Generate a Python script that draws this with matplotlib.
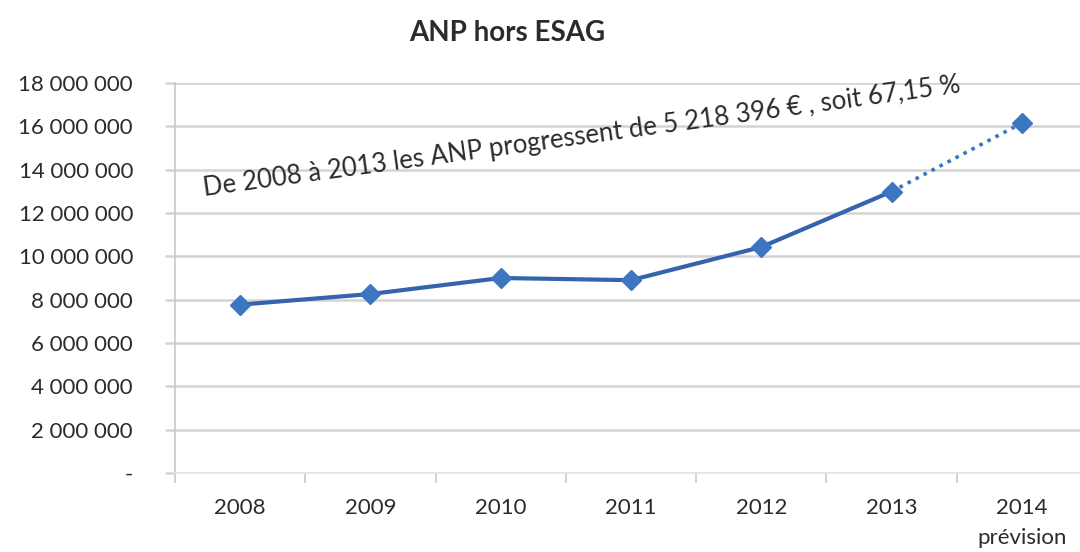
import matplotlib
matplotlib.use("Agg")
import matplotlib.pyplot as plt
import numpy as np

plt.rcParams["font.family"] = ["Lato", "DejaVu Sans"]

years = ["2008", "2009", "2010", "2011", "2012", "2013", "2014\nprévision"]
anp = [7771000, 8260000, 9000000, 8900000, 10430000, 12990000, 16150000]
y_ticks = [0, 2000000, 4000000, 6000000, 8000000, 10000000, 12000000, 14000000, 16000000, 18000000]
title = "ANP hors ESAG"
note = "De 2008 à 2013 les ANP progressent de 5 218 396 € , soit 67,15 %"

LINE = "#3563AE"
MARK = "#3D76C0"
GRID = "#D4D4D4"
TXT = "#2B2B2B"


def fmt(v):
    if v == 0:
        return "-"
    return f"{v:,.0f}".replace(",", " ")


fig = plt.figure(figsize=(10.8, 5.52), dpi=100)
ax = fig.add_axes([175 / 1080, 1 - 473 / 552, 912 / 1080, 390 / 552])

x = np.arange(len(years))
ax.plot(x[:6], anp[:6], color=LINE, linewidth=3, marker="D", markersize=10.5,
        markerfacecolor=MARK, markeredgecolor=MARK, zorder=3)
ax.plot(x[5:], anp[5:], color=MARK, linewidth=2.6, linestyle=(0, (1, 1.5)),
        marker="D", markersize=10.5, markevery=[1],
        markerfacecolor=MARK, markeredgecolor=MARK, zorder=3)

ax.set_xlim(-0.5, len(years) - 0.5)
ax.set_ylim(0, 18000000)
ax.set_yticks(y_ticks)
ax.set_yticklabels([fmt(v) for v in y_ticks], fontsize=16, color=TXT)
ax.yaxis.grid(True, color=GRID, linewidth=1.8)
ax.set_axisbelow(True)
ax.tick_params(axis="y", length=7.2, width=1.8, color=GRID, pad=23)

ax.set_xticks(x)
ax.set_xticklabels(years, fontsize=16, color=TXT, linespacing=1.65)
ax.set_xticks(np.arange(len(years)) - 0.5, minor=True)
ax.tick_params(axis="x", which="major", length=0, pad=18)
ax.tick_params(axis="x", which="minor", length=7.2, color="#C8C8C8", width=1.2)

for side in ["top", "right"]:
    ax.spines[side].set_visible(False)
ax.spines["left"].set_color("#C8C8C8")
ax.spines["left"].set_linewidth(1.2)
ax.spines["bottom"].set_color("#E4E4E4")
ax.spines["bottom"].set_linewidth(1.2)

ax.text(2.62, 15500000, note, rotation=7.8, fontsize=18.5, color=TXT,
        ha="center", va="center", rotation_mode="anchor")

fig.text(507 / 1080, 1 - 33 / 552, title, fontsize=20, fontweight="bold",
         ha="center", va="center", color=TXT)

fig.savefig("out.png", dpi=100)
